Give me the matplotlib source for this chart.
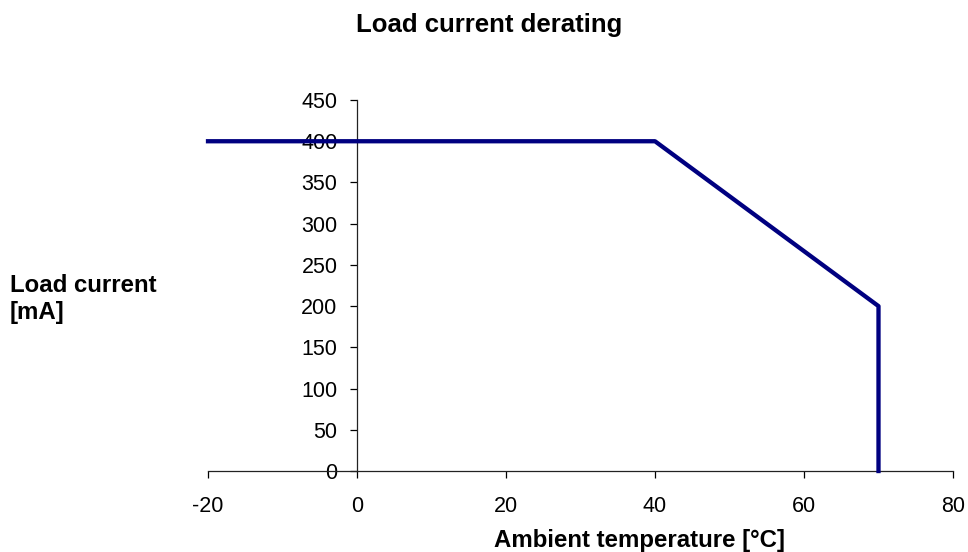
import matplotlib
matplotlib.use('Agg')
import matplotlib.pyplot as plt

plt.rcParams['font.family'] = ['Liberation Sans', 'DejaVu Sans']
plt.rcParams['axes.unicode_minus'] = False

temperature = [-20, 40, 70, 70]
load_current = [400, 400, 200, 0]
x_ticks = [-20, 0, 20, 40, 60, 80]
y_ticks = [0, 50, 100, 150, 200, 250, 300, 350, 400, 450]

fig = plt.figure(figsize=(9.68, 5.52), dpi=100)
ax = fig.add_axes([0.2149, 0.1467, 0.7696, 0.6721])

ax.plot(temperature, load_current, color='#000080', lw=3.1, clip_on=False, zorder=3)

ax.set_xlim(-20, 80)
ax.set_ylim(0, 450)
ax.set_xticks(x_ticks)
ax.set_yticks(y_ticks)

ax.spines['top'].set_visible(False)
ax.spines['right'].set_visible(False)
ax.spines['left'].set_position(('data', 0))
for s in ('left', 'bottom'):
    ax.spines[s].set_linewidth(0.9)
    ax.spines[s].set_color('#222222')

ax.tick_params(axis='x', direction='out', length=5, width=0.9, pad=13, labelsize=15.5)
ax.tick_params(axis='y', direction='out', length=5, width=0.9, pad=9, labelsize=15.5)

fig.text(0.505, 1 - 25 / 552, 'Load current derating', ha='center', va='center',
         fontsize=18.5, fontweight='bold')
fig.text(0.661, 1 - 540 / 552, 'Ambient temperature [°C]', ha='center', va='center',
         fontsize=17.3, fontweight='bold')
fig.text(0.010, 1 - 285 / 552, 'Load current', ha='left', va='center',
         fontsize=17.3, fontweight='bold')
fig.text(0.010, 1 - 313 / 552, '[mA]', ha='left', va='center',
         fontsize=17.3, fontweight='bold')

fig.savefig('out.png', dpi=100)
